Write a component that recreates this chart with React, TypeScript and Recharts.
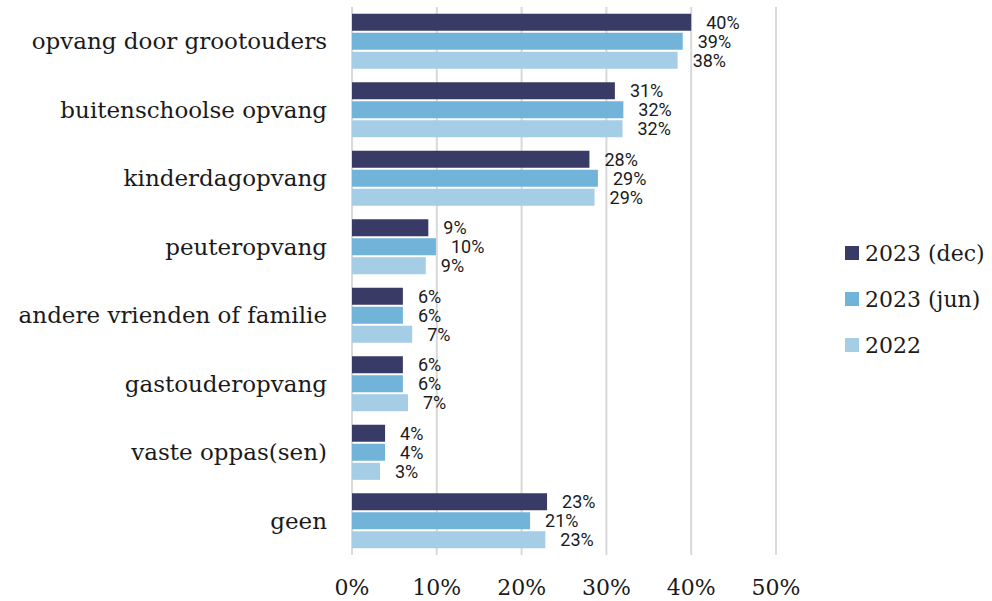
import { Bar, BarChart, CartesianGrid, LabelList, Legend, XAxis, YAxis } from "recharts"

const categories = [
  "opvang door grootouders",
  "buitenschoolse opvang",
  "kinderdagopvang",
  "peuteropvang",
  "andere vrienden of familie",
  "gastouderopvang",
  "vaste oppas(sen)",
  "geen",
]

const dec2023 = [40.0, 31.0, 28.0, 9.0, 6.0, 6.0, 3.9, 23.0]
const jun2023 = [39.0, 32.0, 29.0, 9.9, 6.0, 6.0, 3.9, 21.0]
const y2022 = [38.4, 31.9, 28.6, 8.7, 7.1, 6.6, 3.3, 22.8]

const xTicks = [0, 10, 20, 30, 40, 50]

const series = [
  { key: "dec2023", name: "2023 (dec)", color: "#393b67" },
  { key: "jun2023", name: "2023 (jun)", color: "#72b3da" },
  { key: "y2022", name: "2022", color: "#a5cde6" },
]

const data = categories.map((name, i) => ({
  name,
  dec2023: dec2023[i],
  jun2023: jun2023[i],
  y2022: y2022[i],
}))

const serif = "'DejaVu Serif', serif"

function LegendBox() {
  return (
    <div style={{ width: 147 }}>
      {series.map((s) => (
        <div
          key={s.key}
          style={{ display: "flex", alignItems: "center", height: 46, fontFamily: serif, fontSize: 22, color: "#1a1a1a", whiteSpace: "nowrap" }}
        >
          <span style={{ width: 14, height: 14, background: s.color, marginRight: 6, display: "inline-block", flexShrink: 0 }} />
          {s.name}
        </div>
      ))}
    </div>
  )
}

export default function App() {
  return (
    <div style={{ position: "absolute", left: 0, top: 0 }}>
      <BarChart
        width={992}
        height={601}
        data={data}
        layout="vertical"
        margin={{ top: 7, right: 69, bottom: 6, left: 0 }}
        barCategoryGap="10%"
        barGap={2}
      >
        <CartesianGrid horizontal={false} stroke="#d9d9d9" strokeWidth={2} />
        <XAxis
          type="number"
          domain={[0, 50]}
          ticks={xTicks}
          tickFormatter={(v) => `${v}%`}
          axisLine={false}
          tickLine={false}
          tickSize={0}
          tickMargin={24}
          height={40}
          tick={{ fontFamily: serif, fontSize: 22, fill: "#1a1a1a" }}
        />
        <YAxis
          type="category"
          dataKey="name"
          width={352}
          axisLine={false}
          tickLine={false}
          tickSize={0}
          tickMargin={25}
          interval={0}
          tick={{ fontFamily: serif, fontSize: 23, fill: "#1a1a1a" }}
        />
        <Legend
          layout="vertical"
          align="right"
          verticalAlign="middle"
          content={() => <LegendBox />}
          wrapperStyle={{ left: 845, top: 230, width: 147 }}
        />
        {series.map((s) => (
          <Bar key={s.key} dataKey={s.key} name={s.name} fill={s.color} isAnimationActive={false}>
            <LabelList
              dataKey={s.key}
              position="right"
              offset={15}
              formatter={(v: number) => `${Math.round(v)}%`}
              style={{ fontFamily: "Roboto, sans-serif", fontSize: 18, fill: "#1a1a1a" }}
            />
          </Bar>
        ))}
      </BarChart>
    </div>
  )
}
